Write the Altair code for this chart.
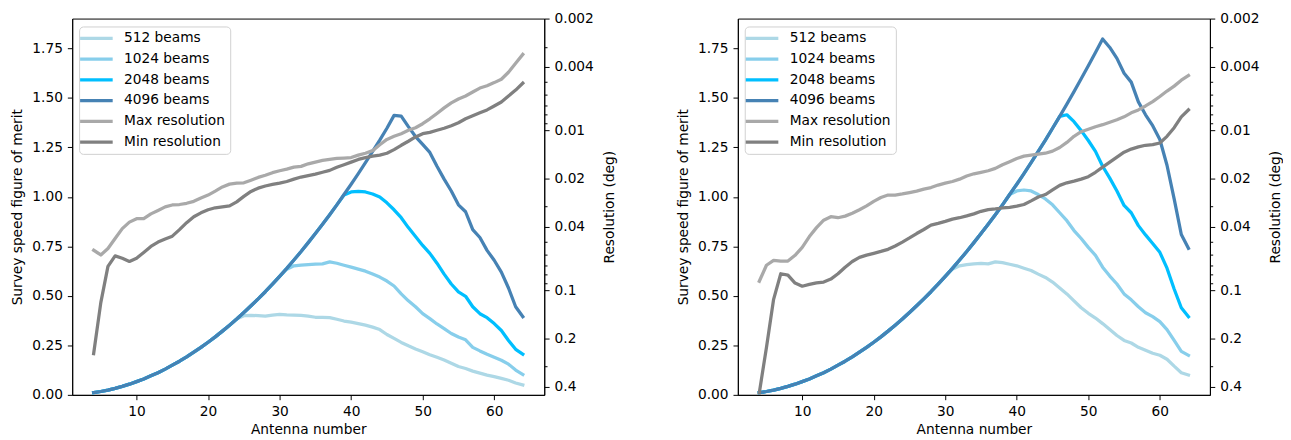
import altair as alt
import pandas as pd

# ---------------- data ----------------
antennas = list(range(4, 65))

# common rising curve shared by all beam counts before they saturate (N = 4..52)
shared_rise = [0.011, 0.017, 0.024, 0.033, 0.043, 0.054, 0.067, 0.080, 0.096, 0.112,
               0.130, 0.150, 0.170, 0.192, 0.216, 0.240, 0.266, 0.293, 0.322, 0.352,
               0.383, 0.416, 0.450, 0.485, 0.521, 0.559, 0.599, 0.639, 0.681, 0.724,
               0.769, 0.815, 0.862, 0.910, 0.960, 1.012, 1.064, 1.118, 1.173, 1.230,
               1.287, 1.347, 1.407, 1.469, 1.532, 1.597, 1.663, 1.730, 1.798]

# left panel
left_512 = shared_rise[:21] + [0.400, 0.402, 0.400, 0.398, 0.403, 0.406, 0.404, 0.403, 0.402, 0.398,
                               0.392, 0.392, 0.390, 0.382, 0.373, 0.367, 0.360, 0.352, 0.342, 0.330,
                               0.305, 0.285, 0.265, 0.248, 0.232, 0.218, 0.203, 0.190, 0.176, 0.160,
                               0.143, 0.133, 0.120, 0.110, 0.100, 0.092, 0.083, 0.074, 0.060, 0.050]
left_1024 = shared_rise[:27] + [0.635, 0.652, 0.655, 0.658, 0.660, 0.662, 0.672, 0.665, 0.655, 0.645,
                                0.635, 0.625, 0.610, 0.595, 0.575, 0.550, 0.510, 0.475, 0.445, 0.410,
                                0.385, 0.358, 0.335, 0.310, 0.292, 0.278, 0.240, 0.222, 0.205, 0.190,
                                0.175, 0.155, 0.125, 0.103]
left_2048 = shared_rise[:35] + [1.010, 1.025, 1.028, 1.025, 1.015, 1.000, 0.970, 0.935, 0.895, 0.845,
                                0.800, 0.755, 0.715, 0.665, 0.610, 0.560, 0.520, 0.498, 0.445, 0.410,
                                0.390, 0.360, 0.325, 0.275, 0.230, 0.205]
left_4096 = shared_rise[:42] + [1.412, 1.408, 1.355, 1.305, 1.265, 1.225, 1.155, 1.090, 1.030, 0.960,
                                0.925, 0.835, 0.795, 0.730, 0.680, 0.620, 0.540, 0.445, 0.395]
left_max_res = [0.0562, 0.0602, 0.0548, 0.0475, 0.0412, 0.0375, 0.0357, 0.0357, 0.0333, 0.0317,
                0.0301, 0.0293, 0.0291, 0.0286, 0.0278, 0.0265, 0.0254, 0.0240, 0.0226, 0.0217,
                0.0214, 0.0213, 0.0205, 0.0197, 0.0191, 0.0184, 0.0179, 0.0175, 0.0170, 0.0168,
                0.0162, 0.0158, 0.0154, 0.0152, 0.0150, 0.0149, 0.0148, 0.0143, 0.0139, 0.0134,
                0.0123, 0.0114, 0.0109, 0.0105, 0.0100, 0.00963, 0.00909, 0.00847, 0.00784, 0.00724,
                0.00674, 0.00637, 0.0061, 0.00576, 0.00544, 0.00526, 0.00503, 0.00479, 0.00433, 0.00381,
                0.00335]
left_min_res = [0.249, 0.1196, 0.0710, 0.0610, 0.0631, 0.0661, 0.0631, 0.0580, 0.0532, 0.0500,
                0.0478, 0.0459, 0.0418, 0.0378, 0.0347, 0.0328, 0.0314, 0.0305, 0.0301, 0.0297,
                0.0280, 0.0259, 0.0241, 0.0230, 0.0223, 0.0218, 0.0214, 0.0209, 0.0202, 0.0196,
                0.0192, 0.0188, 0.0183, 0.0178, 0.0170, 0.0164, 0.0158, 0.0152, 0.0148, 0.0145,
                0.0143, 0.0139, 0.0132, 0.0124, 0.0117, 0.0110, 0.0105, 0.0103, 0.00999, 0.00971,
                0.00935, 0.00896, 0.00847, 0.00811, 0.00777, 0.00745, 0.00704, 0.00665, 0.0061, 0.0056,
                0.00507]

# right panel
right_512 = shared_rise[:27] + [0.635, 0.652, 0.658, 0.662, 0.664, 0.662, 0.672, 0.668, 0.660, 0.652,
                                0.640, 0.628, 0.610, 0.593, 0.570, 0.540, 0.510, 0.475, 0.440, 0.412,
                                0.388, 0.360, 0.330, 0.300, 0.275, 0.262, 0.240, 0.225, 0.210, 0.200,
                                0.180, 0.145, 0.112, 0.100]
right_1024 = shared_rise[:36] + [1.030, 1.035, 1.030, 1.012, 0.990, 0.960, 0.920, 0.880, 0.830, 0.790,
                                 0.745, 0.705, 0.645, 0.600, 0.560, 0.510, 0.480, 0.445, 0.415, 0.395,
                                 0.370, 0.330, 0.275, 0.220, 0.200]
right_2048 = shared_rise[:43] + [1.415, 1.380, 1.335, 1.285, 1.230, 1.155, 1.095, 1.030, 0.957, 0.920,
                                 0.855, 0.808, 0.765, 0.720, 0.640, 0.535, 0.440, 0.395]
right_4096 = shared_rise[:49] + [1.755, 1.700, 1.625, 1.580, 1.480, 1.415, 1.360, 1.290, 1.160, 0.990,
                                 0.810, 0.740]
right_max_res = [0.0879, 0.0698, 0.0650, 0.0657, 0.0657, 0.0605, 0.0540, 0.0462, 0.0406, 0.0365,
                 0.0347, 0.0352, 0.0344, 0.0330, 0.0314, 0.0297, 0.0278, 0.0263, 0.0254, 0.0254,
                 0.0250, 0.0245, 0.0240, 0.0233, 0.0228, 0.0220, 0.0214, 0.0209, 0.0202, 0.0193,
                 0.0187, 0.0183, 0.0179, 0.0173, 0.0164, 0.0157, 0.0150, 0.0145, 0.0143, 0.0141,
                 0.0139, 0.0135, 0.0128, 0.0119, 0.0109, 0.0102, 0.00985, 0.00949, 0.00922, 0.00889,
                 0.00859, 0.00823, 0.00777, 0.00745, 0.00704, 0.00661, 0.00614, 0.00568, 0.00529, 0.00486,
                 0.00454]
right_min_res = [0.438, 0.228, 0.114, 0.0789, 0.0804, 0.0902, 0.0944, 0.0920, 0.0899, 0.0889,
                 0.0852, 0.0789, 0.0718, 0.0661, 0.0623, 0.0603, 0.0588, 0.0572, 0.0555, 0.0529,
                 0.0500, 0.0471, 0.0442, 0.0417, 0.0392, 0.0382, 0.0371, 0.0359, 0.0352, 0.0343,
                 0.0333, 0.0321, 0.0313, 0.0310, 0.0306, 0.0303, 0.0298, 0.0291, 0.0276, 0.0261,
                 0.0252, 0.0236, 0.0221, 0.0213, 0.0208, 0.0202, 0.0195, 0.0183, 0.0170, 0.0158,
                 0.0147, 0.0137, 0.0131, 0.0127, 0.0124, 0.0123, 0.0120, 0.0109, 0.00963, 0.00823,
                 0.00745]

series_names = ["512 beams", "1024 beams", "2048 beams", "4096 beams",
                "Max resolution", "Min resolution"]
series_colors = ["#add8e6", "#87ceeb", "#00bfff", "#4682b4", "#a9a9a9", "#808080"]

antenna_ticks = [10, 20, 30, 40, 50, 60]
merit_ticks = [0.0, 0.25, 0.5, 0.75, 1.0, 1.25, 1.5, 1.75]
res_major = [0.002, 0.004, 0.01, 0.02, 0.04, 0.1, 0.2, 0.4]
res_minor = [0.003, 0.005, 0.006, 0.007, 0.008, 0.009,
             0.03, 0.05, 0.06, 0.07, 0.08, 0.09, 0.3]

# ---------------- chart ----------------
W, H = 478, 381
FONT = "DejaVu Sans"
FS = 13.9

color_scale = alt.Scale(domain=series_names, range=series_colors)
legend = alt.Legend(title=None, orient="none", legendX=7, legendY=8,
                    symbolType="M-2.2,0H4.4", symbolSize=100, symbolStrokeWidth=3.3,
                    fillColor="white", strokeColor="#d0d0d0", cornerRadius=4,
                    padding=5, labelFontSize=FS, labelFont=FONT, labelColor="black",
                    rowPadding=7, labelOffset=26.5)

x_enc = alt.X("antenna:Q", scale=alt.Scale(domain=[1, 67], nice=False, zero=False),
              axis=alt.Axis(values=antenna_ticks, format="d", title="Antenna number"))

major_test = " || ".join(f"datum.value == {v}" for v in res_major)


def panel(beam_lists, max_res, min_res):
    beam_layers = []
    for name, vals in zip(series_names[:4], beam_lists):
        df = pd.DataFrame({"antenna": antennas, "merit": vals, "series": name})
        beam_layers.append(
            alt.Chart(df).mark_line(strokeWidth=3.3, strokeCap="square", strokeJoin="round").encode(
                x=x_enc,
                y=alt.Y("merit:Q", scale=alt.Scale(domain=[0, 1.901], nice=False, zero=False),
                        axis=alt.Axis(values=merit_ticks, format=".2f",
                                      title="Survey speed figure of merit",
                                      titleX=-55, titleY=H / 2, titleAngle=270,
                                      titleAlign="center", titleBaseline="middle")),
                color=alt.Color("series:N", scale=color_scale, legend=legend),
            )
        )
    gray_layers = []
    for name, vals in zip(series_names[4:], [max_res, min_res]):
        df = pd.DataFrame({"antenna": antennas, "res": vals, "series": name})
        gray_layers.append(
            alt.Chart(df).mark_line(strokeWidth=3.3, strokeCap="square", strokeJoin="round").encode(
                x=x_enc,
                y=alt.Y("res:Q",
                        scale=alt.Scale(type="log", domain=[0.002, 0.4513], reverse=True, nice=False),
                        axis=alt.Axis(orient="right", values=res_major + res_minor,
                                      labelExpr=f"({major_test}) ? format(datum.value, '~g') : ''",
                                      tickSize={"condition": {"test": major_test, "value": 4.9},
                                                "value": 2.8},
                                      labelPadding=5,
                                      title="Resolution (deg)", titleAngle=270,
                                      titleX=66, titleY=H / 2,
                                      titleAlign="center", titleBaseline="middle")),
                color=alt.Color("series:N", scale=color_scale, legend=legend),
            )
        )
    return (alt.layer(alt.layer(*beam_layers), alt.layer(*gray_layers))
            .resolve_scale(y="independent")
            .properties(width=W, height=H))


left = panel([left_512, left_1024, left_2048, left_4096], left_max_res, left_min_res)
right = panel([right_512, right_1024, right_2048, right_4096], right_max_res, right_min_res)

chart = (
    alt.hconcat(left, right, spacing=59)
    .resolve_scale(color="independent")
    .properties(padding={"left": 2, "top": 0, "right": 0, "bottom": 0})
    .configure(font=FONT)
    .configure_view(stroke="black", strokeWidth=1)
    .configure_axis(grid=False, domainColor="black", domainWidth=1, tickColor="black",
                    tickWidth=1, tickSize=4.9, labelColor="black", titleColor="black",
                    labelFont=FONT, titleFont=FONT, labelFontSize=FS, titleFontSize=FS,
                    titleFontWeight="normal", labelPadding=5)
)

chart.save("out.html", embed_options={"renderer": "svg", "actions": False})
